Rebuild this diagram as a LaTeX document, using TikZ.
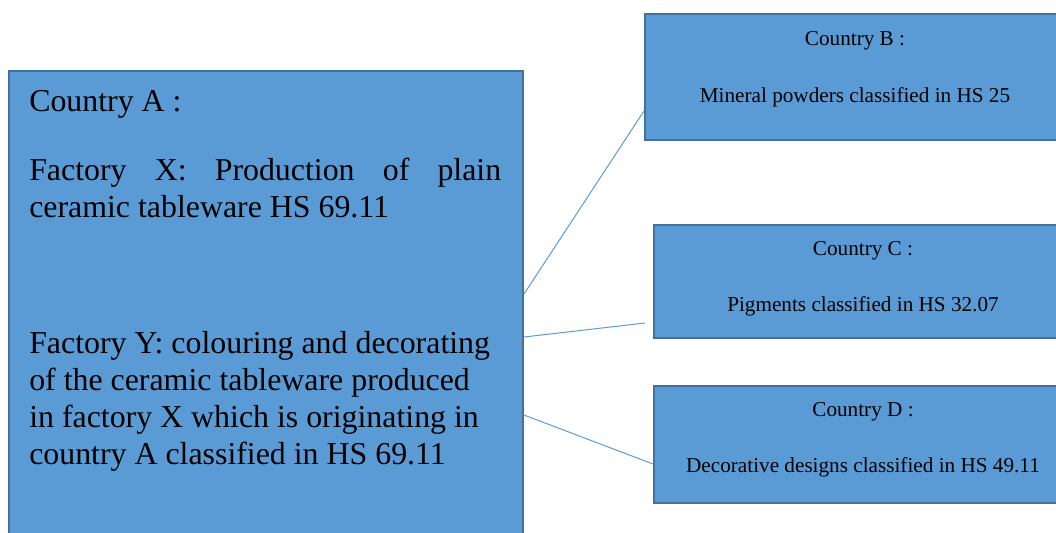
\documentclass[tikz,border=0pt]{standalone}
\usepackage{fontspec}
\setmainfont{Liberation Serif}
\definecolor{boxfill}{HTML}{5B9BD5}
\definecolor{boxline}{HTML}{41719C}
\definecolor{connline}{HTML}{5B9BD5}
\begin{document}
\begin{tikzpicture}[x=0.75pt,y=-0.75pt,
  cbox/.style={draw=boxline, fill=boxfill, line width=1.5pt, rectangle, anchor=north west, inner sep=0pt},
  bigtext/.style={anchor=base west, inner sep=0pt, font=\fontsize{23.9pt}{27.5pt}\selectfont},
  smalltext/.style={anchor=base, inner sep=0pt, font=\fontsize{15.9pt}{19pt}\selectfont},
  conn/.style={draw=connline, line width=0.75pt}]
\useasboundingbox (0,0) rectangle (1056,532);
\clip (0,0) rectangle (1056,532);
% boxes
\node[cbox, minimum width=386pt, minimum height=360pt] (A) at (7.5,69.5) {};
\node[cbox, minimum width=316.5pt, minimum height=94.5pt] (B) at (644,13) {};
\node[cbox, minimum width=315pt, minimum height=84.75pt] (C) at (653,224) {};
\node[cbox, minimum width=315pt, minimum height=87.75pt] (D) at (653,385) {};
% texts of box A
\node[bigtext] (a1) at (29,111) {Country A :};
\node[bigtext] (a2) at (29,180) {\makebox[354pt][s]{Factory X: Production of plain}};
\node[bigtext] (a3) at (29,217) {ceramic tableware HS 69.11};
\node[bigtext] (a4) at (29,353) {Factory Y: colouring and decorating};
\node[bigtext] (a5) at (29,390) {of the ceramic tableware produced};
\node[bigtext] (a6) at (29,427) {in factory X which is originating in};
\node[bigtext] (a7) at (29,464) {country A classified in HS 69.11};
% texts of the small boxes
\node[smalltext] (b1) at (855,45) {Country B :};
\node[smalltext] (b2) at (855,102) {Mineral powders classified in HS 25};
\node[smalltext] (c1) at (863,255) {Country C :};
\node[smalltext] (c2) at (863,311) {Pigments classified in HS 32.07};
\node[smalltext] (d1) at (863,416) {Country D :};
\node[smalltext] (d2) at (863,472) {Decorative designs classified in HS 49.11};
% connectors
\coordinate (AB) at (524,294);
\coordinate (BA) at (644,111);
\coordinate (AC) at (524,337);
\coordinate (CA) at (645,323);
\coordinate (AD) at (524,415);
\coordinate (DA) at (653,464);
\draw[conn] (AB) -- (BA);
\draw[conn] (AC) -- (CA);
\draw[conn] (AD) -- (DA);
\end{tikzpicture}
\end{document}
